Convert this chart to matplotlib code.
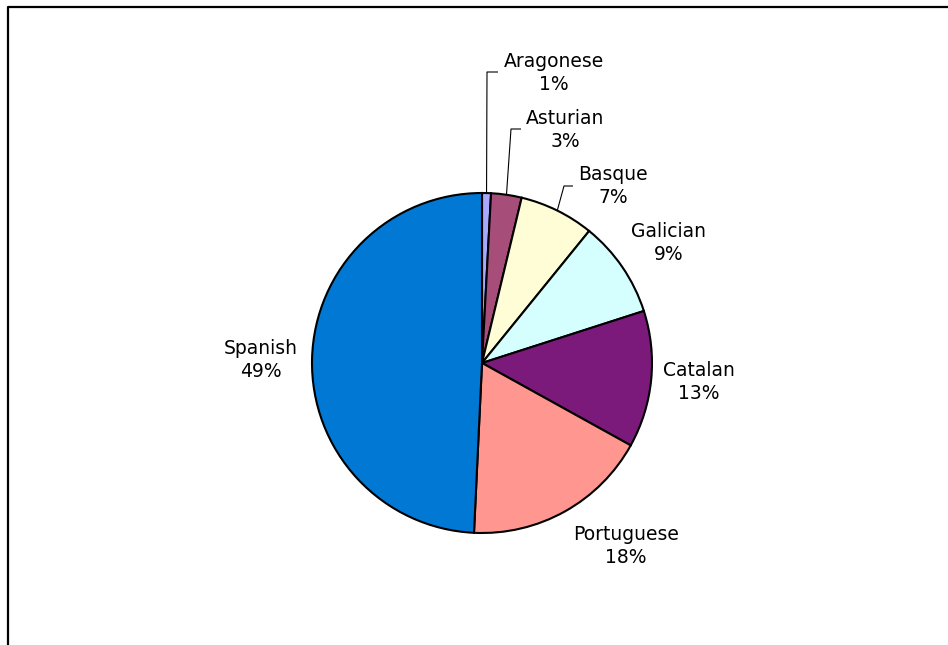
import numpy as np
import matplotlib
matplotlib.use("Agg")
import matplotlib.pyplot as plt

# Share of languages (clockwise from 12 o'clock)
languages = ["Aragonese", "Asturian", "Basque", "Galician", "Catalan", "Portuguese", "Spanish"]
shares = [0.85, 2.9, 7.1, 9.2, 13.0, 17.7, 49.25]
colors = ["#A8A8FF", "#A64D79", "#FFFDD5", "#D5FFFF", "#7B1A7B", "#FF9690", "#0078D4"]

W, H = 948, 645
fig = plt.figure(figsize=(W / 100, H / 100), dpi=100)
ax = fig.add_axes([0, 0, 1, 1])

cx, cy, r = 482, H - 363, 170
wedges, _ = ax.pie(shares, colors=colors, startangle=90, counterclock=False,
                   center=(cx, cy), radius=r,
                   wedgeprops=dict(edgecolor="black", linewidth=1.5))
ax.set_xlim(0, W)
ax.set_ylim(0, H)
ax.axis("off")

# label centre (pixel coords from top-left); leader elbow and end (or None)
label_pos = {
    "Aragonese": (554, 73, (487, 72), (498, 72)),
    "Asturian": (565, 130, (511, 129), (521, 129)),
    "Basque": (613, 186, (564, 186), (573, 186)),
    "Galician": (669, 243, None, None),
    "Catalan": (699, 382, None, None),
    "Portuguese": (626, 546, None, None),
    "Spanish": (261, 360, None, None),
}

total = sum(shares)
for w, name, val in zip(wedges, languages, shares):
    lx, ly, elbow, end = label_pos[name]
    ax.text(lx, H - ly, f"{name}\n{val / total * 100:.0f}%", ha="center", va="center",
            fontsize=13.5, linespacing=1.25, color="black")
    if elbow is not None:
        mid = np.deg2rad((w.theta1 + w.theta2) / 2)
        px, py = cx + r * np.cos(mid), cy + r * np.sin(mid)
        ax.plot([px, elbow[0], end[0]], [py, H - elbow[1], H - end[1]],
                color="black", lw=0.8, solid_capstyle="butt")

# chart area border (right and bottom edges run off the image)
ax.plot([8, 8, W + 5], [-5, H - 7, H - 7], color="black", lw=1.6, clip_on=False)

fig.savefig("out.png", dpi=100, facecolor="white")
